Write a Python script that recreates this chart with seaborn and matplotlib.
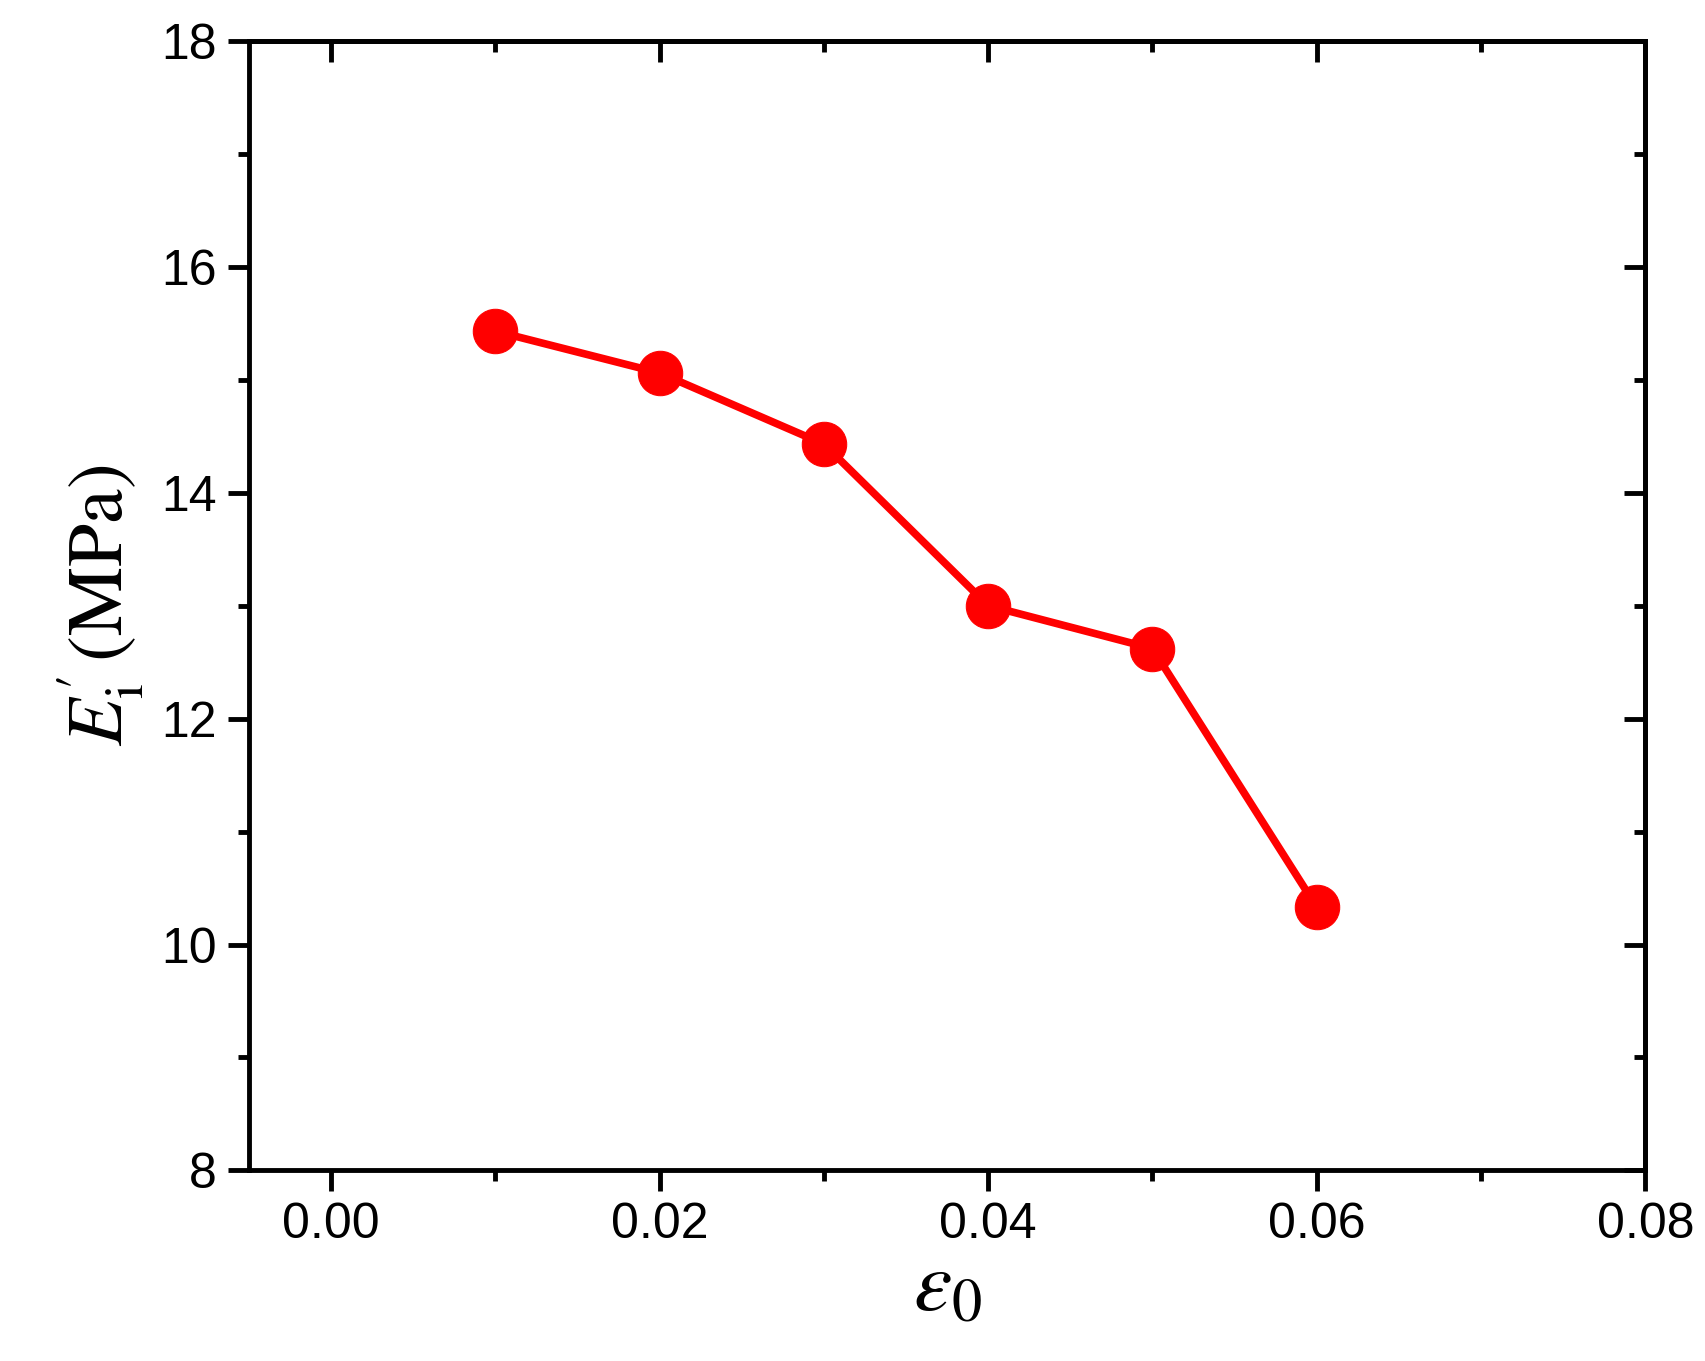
import matplotlib
matplotlib.use("Agg")
import matplotlib.pyplot as plt
import seaborn as sns
import pandas as pd
from matplotlib.ticker import MultipleLocator

strain = [0.01, 0.02, 0.03, 0.04, 0.05, 0.06]
modulus = [15.43, 15.06, 14.43, 13.00, 12.62, 10.33]
df = pd.DataFrame({"x": strain, "y": modulus})

sns.set_style("ticks")
plt.rcParams['font.family'] = ['Liberation Sans', 'DejaVu Sans']
plt.rcParams['mathtext.fontset'] = 'stix'
plt.rcParams['text.color'] = 'black'
plt.rcParams['axes.labelcolor'] = 'black'
plt.rcParams['xtick.color'] = 'black'
plt.rcParams['ytick.color'] = 'black'
plt.rcParams['axes.edgecolor'] = 'black'

fig = plt.figure(figsize=(17.05, 13.61), dpi=100)
ax = fig.add_axes([0.146, 0.14, 0.819, 0.83])
sns.lineplot(data=df, x="x", y="y", ax=ax, color="#ff0000", lw=5.5,
             marker="o", markersize=32, markeredgecolor="#ff0000", markerfacecolor="#ff0000")
ax.set_xlim(-0.005, 0.08)
ax.set_ylim(8, 18)
ax.xaxis.set_minor_locator(MultipleLocator(0.01))
ax.yaxis.set_major_locator(MultipleLocator(2))
ax.yaxis.set_minor_locator(MultipleLocator(1))
ax.set_xticks([0, 0.02, 0.04, 0.06, 0.08])
ax.set_xticklabels(["0.00", "0.02", "0.04", "0.06", "0.08"])
for s in ax.spines.values():
    s.set_linewidth(3.5); s.set_visible(True)
ax.tick_params(which="major", length=15, width=3.5, labelsize=36, direction="out", pad=8)
ax.tick_params(which="minor", length=8, width=3.5, direction="out")
ax2 = ax.secondary_xaxis("top"); ax3 = ax.secondary_yaxis("right")
for a in (ax2, ax3):
    a.tick_params(which="major", length=15, width=3.5, direction="in", labelsize=0)
    a.tick_params(which="minor", length=8, width=3.5, direction="in")
    a.spines[:].set_linewidth(3.5)
ax2.xaxis.set_major_locator(MultipleLocator(0.02)); ax2.xaxis.set_minor_locator(MultipleLocator(0.01))
ax3.yaxis.set_major_locator(MultipleLocator(2)); ax3.yaxis.set_minor_locator(MultipleLocator(1))
ax2.set_xticklabels([]); ax3.set_yticklabels([])
ax.set_xlabel(r"$\varepsilon_0$", fontsize=62, labelpad=0)
ax.set_ylabel(r"$E_{\rm i}^{\prime}\,\mathrm{(MPa)}$", fontsize=56, labelpad=12)
fig.savefig("out.png", dpi=100)
